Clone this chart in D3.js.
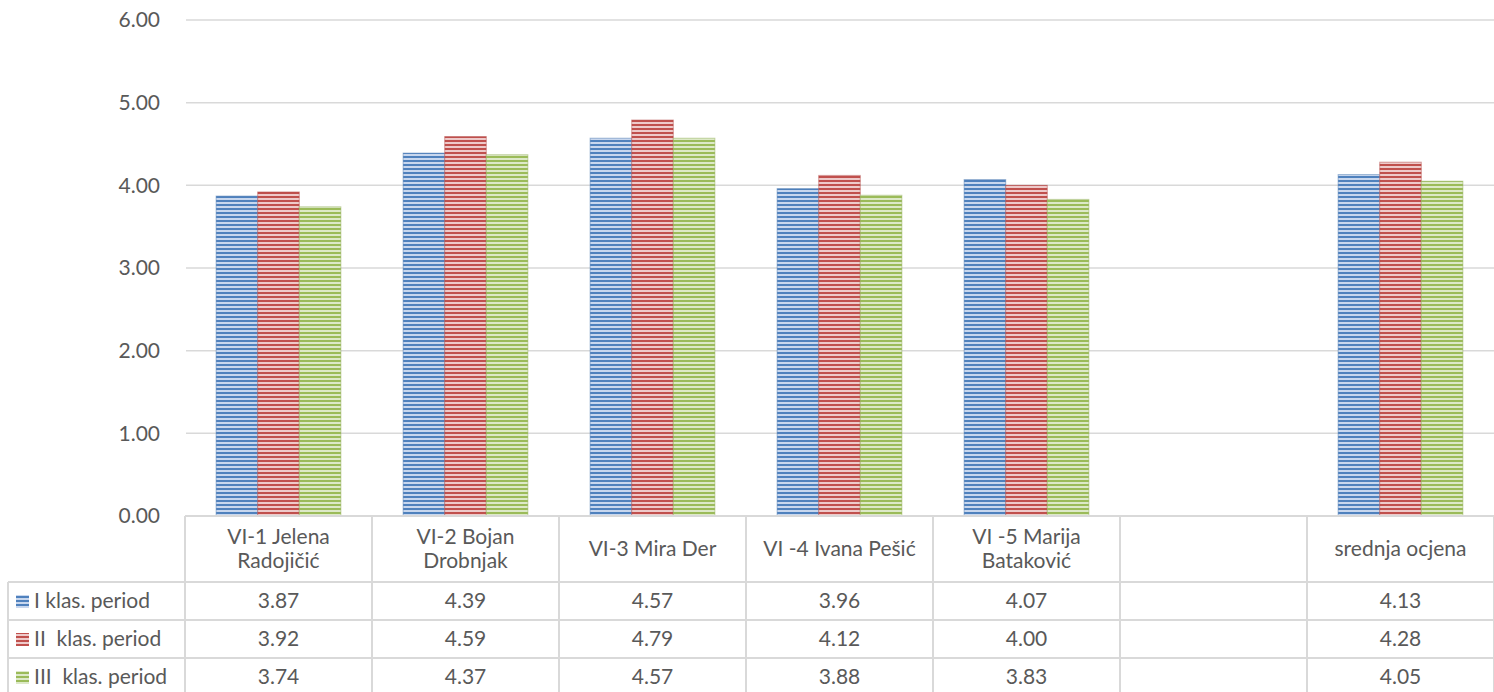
<!DOCTYPE html>
<html><head><meta charset="utf-8">
<script src="https://cdn.jsdelivr.net/npm/d3@7"></script>
<style>
html,body{margin:0;padding:0;background:#fff;}
svg{display:block;font-family:Lato,"Open Sans",sans-serif;}
</style></head>
<body><svg id="c" width="1494" height="692"></svg>
<script>
const categories = ["VI-1 Jelena Radojičić","VI-2 Bojan Drobnjak","VI-3 Mira Der","VI -4 Ivana Pešić","VI -5 Marija Bataković","","srednja ocjena"];
const seriesNames = ["I klas. period","II  klas. period","III  klas. period"];
const serI   = [3.87,4.39,4.57,3.96,4.07,null,4.13];
const serII  = [3.92,4.59,4.79,4.12,4.00,null,4.28];
const serIII = [3.74,4.37,4.57,3.88,3.83,null,4.05];
const yTicks = [0,1,2,3,4,5,6];
const colors = ["#4F81BD","#C0504D","#9BBB59"];
const tints  = ["#c8d7ee","#eecaca","#dde9c8"];
const series = [serI, serII, serIII];

const svg = d3.select("#c");
const W = 1494, H = 692;
const plotL = 185, plotR = 1494, plotT = 20, plotB = 516;
const fontSize = 21;
const FONT = 'Lato,"Open Sans",sans-serif';
const textCol = "#595959", gridCol = "#d9d9d9";

// patterns
const defs = svg.append("defs");
colors.forEach((c,i)=>{
  const p = defs.append("pattern").attr("id","pat"+i).attr("patternUnits","userSpaceOnUse")
    .attr("width",8).attr("height",4);
  p.append("rect").attr("width",8).attr("height",4).attr("fill",tints[i]);
  p.append("rect").attr("y",0).attr("width",8).attr("height",2).attr("fill",c);
});

const y = d3.scaleLinear().domain([0,6]).range([plotB, plotT]);
const x0 = d3.scaleBand().domain(d3.range(categories.length)).range([plotL, plotR]).paddingInner(0.333).paddingOuter(0.1665);
const x1 = d3.scaleBand().domain(d3.range(series.length)).range([0, x0.bandwidth()]);

// gridlines
svg.append("g").selectAll("line").data(yTicks.filter(t=>t>0)).join("line")
  .attr("x1",plotL+1).attr("x2",plotR).attr("y1",d=>y(d)).attr("y2",d=>y(d))
  .attr("stroke",gridCol).attr("stroke-width",1.5);

// y axis labels
const yAxis = d3.axisLeft(y).tickValues(yTicks).tickFormat(d3.format(".2f")).tickSize(0).tickPadding(0);
const ga = svg.append("g").attr("transform",`translate(160,0)`).call(yAxis);
ga.select(".domain").remove();
ga.selectAll("text").attr("fill",textCol).attr("font-size",fontSize).attr("font-family",FONT);

// bars
const gb = svg.append("g");
categories.forEach((cat,ci)=>{
  series.forEach((s,si)=>{
    const v = s[ci];
    if(v==null) return;
    gb.append("rect")
      .attr("x", x0(ci)+x1(si)).attr("width", x1.bandwidth())
      .attr("y", y(v)).attr("height", y(0)-y(v))
      .attr("fill","url(#pat"+si+")")
      .attr("stroke", d3.color(colors[si]).darker(0.2)).attr("stroke-opacity",0.5).attr("stroke-width",1);
  });
});

// data table
const headerB = 582, rowH = 38;
const tbl = svg.append("g");
const step = x0.step();
const colEdges = d3.range(categories.length+1).map(i=>plotL + i*step);
tbl.append("line").attr("x1",plotL).attr("x2",plotR).attr("y1",plotB).attr("y2",plotB).attr("stroke",gridCol).attr("stroke-width",2);
[0,1,2,3].forEach(r=>{
  tbl.append("line").attr("x1",8).attr("x2",plotR).attr("y1",headerB+r*rowH).attr("y2",headerB+r*rowH).attr("stroke",gridCol).attr("stroke-width",2);
});
colEdges.forEach(xe=>{
  tbl.append("line").attr("x1",xe).attr("x2",xe).attr("y1",plotB).attr("y2",H).attr("stroke",gridCol).attr("stroke-width",2);
});
tbl.append("line").attr("x1",8).attr("x2",8).attr("y1",headerB).attr("y2",H).attr("stroke",gridCol).attr("stroke-width",2);

// header labels with wrap
categories.forEach((cat,ci)=>{
  if(!cat) return;
  const cx = x0(ci)+x0.bandwidth()/2;
  const t = tbl.append("text").attr("x",cx).attr("text-anchor","middle").attr("fill",textCol).attr("font-size",fontSize);
  const words = cat.split(" ");
  const lines = []; let cur = [];
  const tmp = t.append("tspan");
  words.forEach(w=>{
    const trial = cur.concat([w]).join(" ");
    tmp.text(trial);
    if(tmp.node().getComputedTextLength() > 165 && cur.length){ lines.push(cur.join(" ")); cur=[w]; }
    else cur.push(w);
  });
  lines.push(cur.join(" "));
  tmp.remove();
  const lh = 24;
  const mid = (plotB+headerB)/2;
  lines.forEach((ln,li)=>{
    t.append("tspan").attr("x",cx).attr("y", mid + (li-(lines.length-1)/2)*lh).attr("dy","0.35em").text(ln);
  });
});

// rows
series.forEach((s,si)=>{
  const cy = headerB + si*rowH + rowH/2;
  tbl.append("rect").attr("x",16).attr("y",cy-6).attr("width",13).attr("height",13).attr("fill","url(#pat"+si+")");
  tbl.append("text").attr("x",34).attr("y",cy).attr("dy","0.35em").attr("fill",textCol).attr("font-size",fontSize)
    .attr("xml:space","preserve").style("white-space","pre").text(seriesNames[si]);
  categories.forEach((cat,ci)=>{
    const v = s[ci];
    if(v==null) return;
    tbl.append("text").attr("x",x0(ci)+x0.bandwidth()/2).attr("y",cy).attr("dy","0.35em").attr("text-anchor","middle")
      .attr("fill",textCol).attr("font-size",fontSize).text(d3.format(".2f")(v));
  });
});
</script></body></html>
